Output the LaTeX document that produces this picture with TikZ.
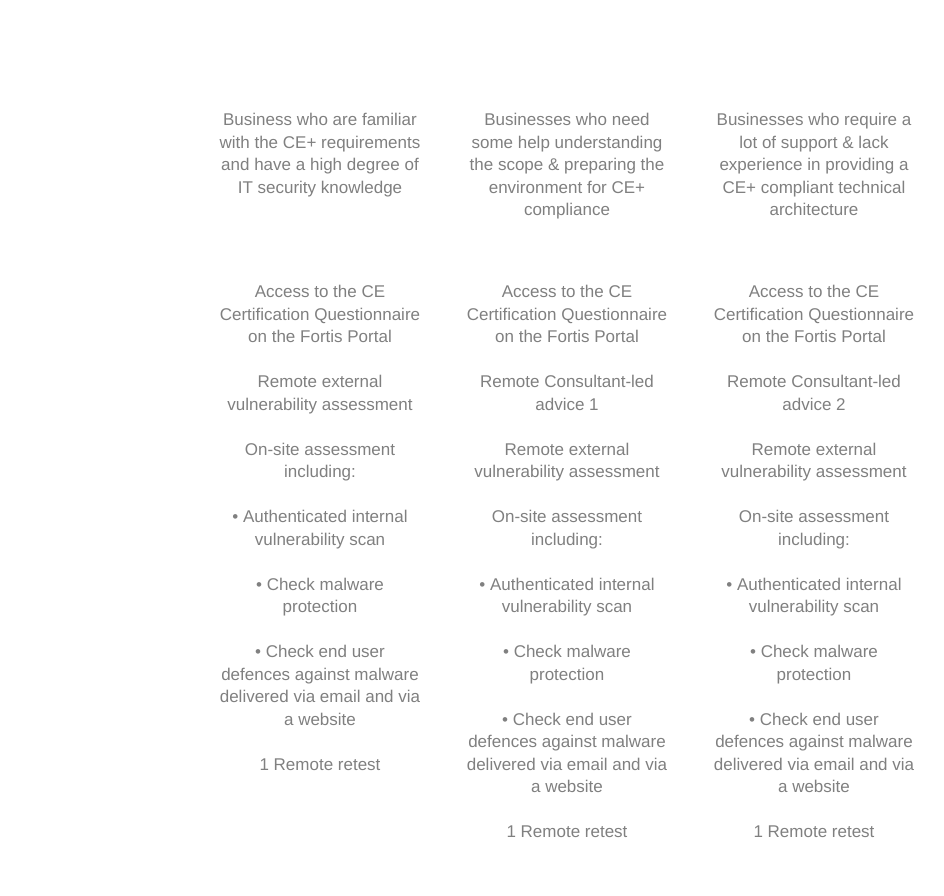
\documentclass[tikz,border=0pt]{standalone}
\usepackage{fontspec}
\setmainfont{Liberation Sans}
\definecolor{txt}{HTML}{808080}
\begin{document}
\begin{tikzpicture}[x=1pt,y=-1pt,
  col/.style={anchor=north,inner sep=0pt,align=center,text=txt,font=\fontsize{17}{22.5}\selectfont}]
\useasboundingbox[fill=white] (0,0) rectangle (944,895);
\node[col] (h1) at (320,113) {Business who are familiar\\with the CE+ requirements\\and have a high degree of\\IT security knowledge};
\node[col] (h2) at (567,113) {Businesses who need\\some help understanding\\the scope \& preparing the\\environment for CE+\\compliance};
\node[col] (h3) at (814,113) {Businesses who require a\\lot of support \& lack\\experience in providing a\\CE+ compliant technical\\architecture};
\node[col] (b1) at (320,285) {Access to the CE\\Certification Questionnaire\\on the Fortis Portal\\[22.5pt]Remote external\\vulnerability assessment\\[22.5pt]On-site assessment\\including:\\[22.5pt]• Authenticated internal\\vulnerability scan\\[22.5pt]• Check malware\\protection\\[22.5pt]• Check end user\\defences against malware\\delivered via email and via\\a website\\[22.5pt]1 Remote retest};
\node[col] (b2) at (567,285) {Access to the CE\\Certification Questionnaire\\on the Fortis Portal\\[22.5pt]Remote Consultant-led\\advice 1\\[22.5pt]Remote external\\vulnerability assessment\\[22.5pt]On-site assessment\\including:\\[22.5pt]• Authenticated internal\\vulnerability scan\\[22.5pt]• Check malware\\protection\\[22.5pt]• Check end user\\defences against malware\\delivered via email and via\\a website\\[22.5pt]1 Remote retest};
\node[col] (b3) at (814,285) {Access to the CE\\Certification Questionnaire\\on the Fortis Portal\\[22.5pt]Remote Consultant-led\\advice 2\\[22.5pt]Remote external\\vulnerability assessment\\[22.5pt]On-site assessment\\including:\\[22.5pt]• Authenticated internal\\vulnerability scan\\[22.5pt]• Check malware\\protection\\[22.5pt]• Check end user\\defences against malware\\delivered via email and via\\a website\\[22.5pt]1 Remote retest};
\end{tikzpicture}
\end{document}
